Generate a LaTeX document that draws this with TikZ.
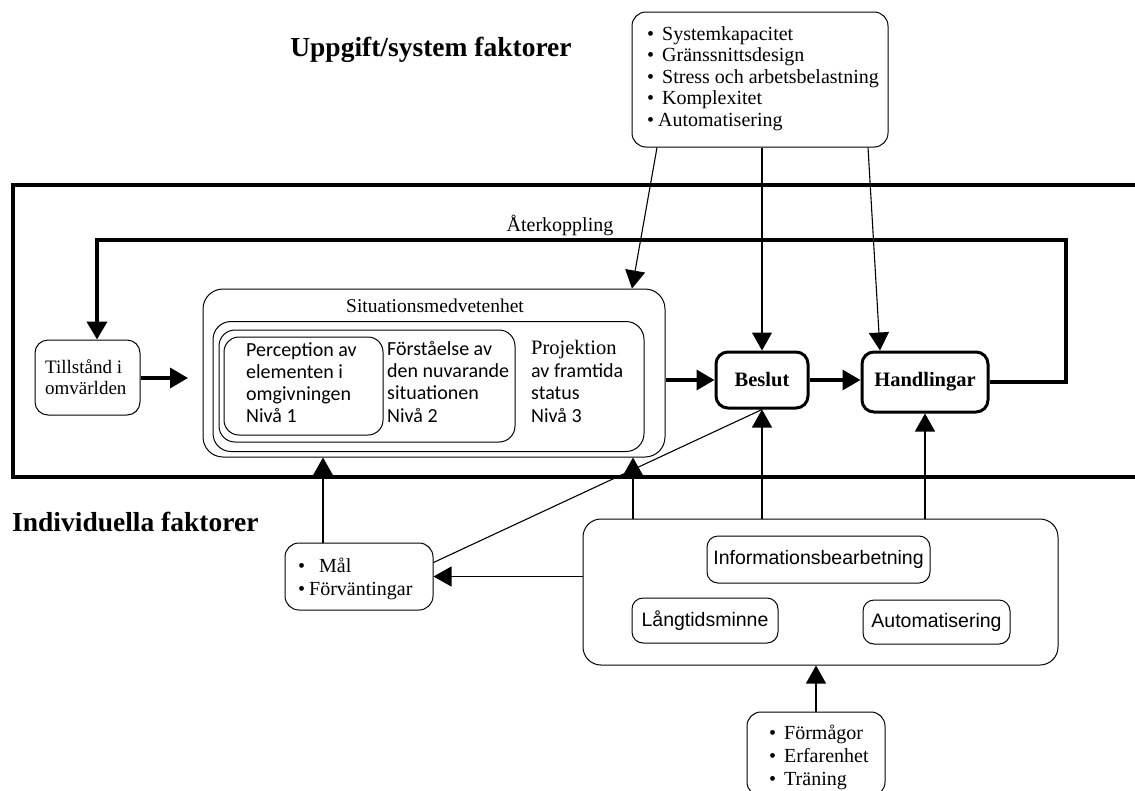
\documentclass[tikz,border=0pt]{standalone}
\usepackage{fontspec}
\setmainfont{Liberation Serif}
\newfontfamily\arialf{Liberation Sans}
\newfontfamily\calf{Carlito}
\usetikzlibrary{arrows.meta,calc}
\begin{document}
\begin{tikzpicture}[x=1pt,y=-1pt,
  box/.style={draw, rounded corners=14pt, line width=1pt, inner sep=0pt},
  boldbox/.style={draw, rounded corners=12pt, line width=3pt, inner sep=0pt, font=\bfseries\fontsize{20.5}{24}\selectfont},
  inbox/.style={draw, rounded corners=11pt, line width=1pt, inner sep=0pt, font=\arialf\fontsize{19.5}{22}\selectfont},
  txt/.style={anchor=north west, align=left, inner sep=0pt},
  tip/.style={-{Triangle[length=18pt,width=20pt]}},
  thinline/.style={line width=1.1pt},
  thickline/.style={line width=4pt},
  midline/.style={line width=3.5pt}]
\useasboundingbox (0,0) rectangle (1135,790);

% titles
\node[font=\bfseries\fontsize{27.5}{32}\selectfont] (t1) at (431,50) {Uppgift/system faktorer};
\node[anchor=west, inner sep=0pt, font=\bfseries\fontsize{27.5}{32}\selectfont] (t2) at (12,522) {Individuella faktorer};

% frame
\draw[thickline] (1136,185) -- (13,185) -- (13,477) -- (1136,477);

% system factors box
\node[box, minimum width=256pt, minimum height=135pt] (sys) at (760,79.5) {};
\node[txt, font=\fontsize{20}{21.5}\selectfont] (systxt) at (647,26.2)
 {•\hspace{0.4em}Systemkapacitet\\•\hspace{0.4em}Gränssnittsdesign\\•\hspace{0.4em}Stress och arbetsbelastning\\•\hspace{0.4em}Komplexitet\\•\hspace{0.2em}Automatisering};

% feedback label
\node[font=\fontsize{20}{24}\selectfont] (fbl) at (560,225) {Återkoppling};

% Tillstånd
\node[box, minimum width=105pt, minimum height=75pt, rounded corners=13pt] (till) at (87.5,377.5) {};
\node[txt, font=\fontsize{19}{20.5}\selectfont] (tilltxt) at (45,360) {Tillstånd i\\omvärlden};

% SA boxes
\node[box, minimum width=462pt, minimum height=168pt, rounded corners=20pt] (sa1) at (434,373) {};
\node[box, minimum width=431pt, minimum height=130pt, rounded corners=18pt] (sa2) at (428.5,386.5) {};
\node[box, minimum width=296pt, minimum height=112pt, rounded corners=16pt] (sa3) at (367,386) {};
\node[box, minimum width=159pt, minimum height=98pt, rounded corners=15pt] (sa4) at (303.5,386) {};
\node[font=\fontsize{19.5}{22}\selectfont] (satitle) at (435,306) {Situationsmedvetenhet};
\node[txt, font=\calf\fontsize{20}{22.3}\selectfont] (l1) at (246,342) {Perception av\\elementen i\\omgivningen\\Nivå 1};
\node[txt, font=\calf\fontsize{20}{22.3}\selectfont] (l2) at (387,341) {Förståelse av\\den nuvarande\\situationen\\Nivå 2};
\node[txt, font=\fontsize{20.5}{22}\selectfont] (l3a) at (531,340) {Projektion};
\node[txt, font=\calf\fontsize{20}{22.5}\selectfont] (l3b) at (531,363) {av framtida\\status\\Nivå 3};

% Beslut, Handlingar
\node[boldbox, minimum width=92pt, minimum height=56pt] (beslut) at (762,380) {Beslut};
\node[boldbox, minimum width=126pt, minimum height=60pt] (hand) at (925,382) {Handlingar};

% individual factors
\node[box, minimum width=148pt, minimum height=67pt] (mal) at (359,576.5) {};
\node[txt, font=\fontsize{20}{23}\selectfont] (maltxt) at (298,558) {•\hspace{0.7em}Mål\\•\hspace{0.2em}Förväntingar};

\node[box, minimum width=475pt, minimum height=146pt, rounded corners=18pt] (ind) at (820.5,592) {};
\node[inbox, minimum width=223pt, minimum height=47pt] (info) at (818.5,559.5) {Informationsbearbetning};
\node[inbox, minimum width=146pt, minimum height=45pt] (lang) at (705,620.5) {Långtidsminne};
\node[inbox, minimum width=147pt, minimum height=44pt] (auto) at (936.5,622) {Automatisering};

\node[box, minimum width=138pt, minimum height=84pt] (fm) at (816,754) {};
\node[txt, font=\fontsize{20}{23}\selectfont] (fmtxt) at (769,725) {•\hspace{0.4em}Förmågor\\•\hspace{0.4em}Erfarenhet\\•\hspace{0.4em}Träning};

% connectors: feedback loop
\coordinate (fbA) at (1066,382);
\coordinate (fbB) at (1066,240);
\coordinate (fbC) at (97,240);
\draw[thickline, tip] (hand.east) -- (fbA) -- (fbB) -- (fbC) -- (till.north -| fbC);

% main flow
\coordinate (tillend) at (188,378);
\draw[midline, tip] (till.east |- tillend) -- (tillend);
\draw[midline, tip] (sa1.east |- beslut.west) -- (beslut.west);
\draw[midline, tip] (beslut.east) -- (hand.west |- beslut.east);

% from system factors
\draw[thinline, tip] ($(sys.south)+(-103,0)$) -- ($(sa1.north)+(198,0)$);
\draw[thinline, tip] (sys.south -| beslut.north) -- (beslut.north);
\draw[thinline, tip] ($(sys.south)+(108,0)$) -- ($(hand.north)+(-45,0)$);

% from individual factors
\draw[thinline, tip] ($(ind.north)+(-187.5,0)$) -- ($(sa1.south)+(199,0)$);
\draw[thinline, tip] (ind.north -| beslut.south) -- (beslut.south);
\draw[thinline, tip] (ind.north -| hand.south) -- (hand.south);
\draw[thinline, tip] (ind.west |- mal.east) -- (mal.east);
\draw[thinline, tip] ($(mal.north)+(-36,0)$) -- ($(sa1.south)+(-111,0)$);
\draw[thinline] ($(mal.east)+(0,-14)$) -- (beslut.south);
\draw[thinline, tip] (fm.north) -- (ind.south -| fm.north);
\end{tikzpicture}
\end{document}
